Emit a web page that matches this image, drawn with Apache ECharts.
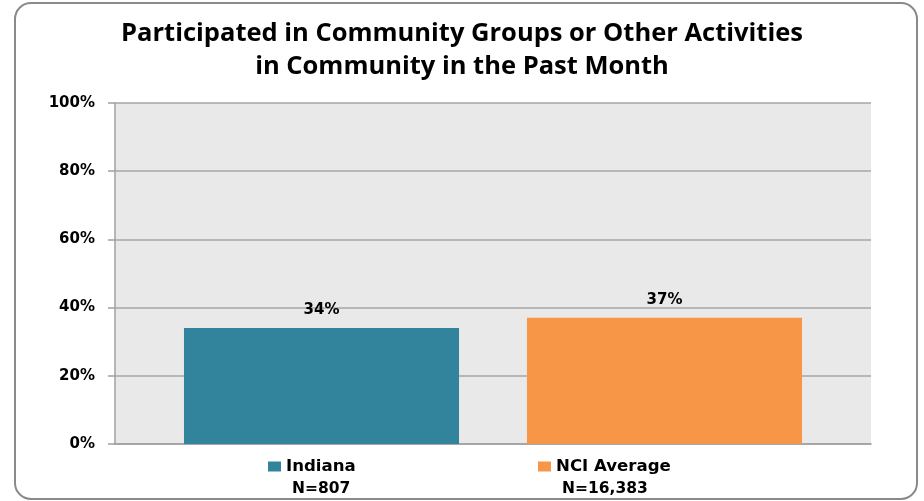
<!DOCTYPE html>
<html>
<head>
<meta charset="utf-8">
<script src="https://cdn.jsdelivr.net/npm/echarts@6/dist/echarts.min.js"></script>
<style>
  html, body { margin: 0; padding: 0; background: #ffffff; }
  #chart { width: 924px; height: 501px; }
</style>
</head>
<body>
<div id="chart"></div>
<script>
const titleText = 'Participated in Community Groups or Other Activities\nin Community in the Past Month';
const seriesNames = ['Indiana', 'NCI Average'];
const seriesValues = [34, 37];
const sampleSizes = ['807', '16,383'];
const seriesColors = ['#31849b', '#f79646'];
const yTicks = [0, 20, 40, 60, 80, 100];

const labelFont = 'DejaVu Sans';
const chart = echarts.init(document.getElementById('chart'), null, { renderer: 'canvas' });

const legendPositions = [268, 538];
const nLegendPositions = [287, 557];

const legends = [];
seriesNames.forEach((name, i) => {
  legends.push({
    data: [name],
    left: legendPositions[i],
    top: 458,
    padding: 0,
    itemWidth: 13,
    itemHeight: 10,
    icon: 'rect',
    textStyle: { fontFamily: labelFont, fontWeight: 'bold', fontSize: 16.6, color: '#000' }
  });
  legends.push({
    data: [{ name: name, icon: 'none' }],
    left: nLegendPositions[i],
    top: 481,
    padding: 0,
    itemWidth: 0,
    itemHeight: 10,
    selectedMode: false,
    formatter: () => 'N=' + sampleSizes[i],
    textStyle: { fontFamily: labelFont, fontWeight: 'bold', fontSize: 15.5, color: '#000' }
  });
});

const option = {
  backgroundColor: '#ffffff',
  animation: false,
  title: {
    text: titleText,
    left: 'center',
    top: 17,
    padding: 0,
    textStyle: {
      fontFamily: 'Open Sans',
      fontWeight: 'bold',
      fontSize: 25.5,
      lineHeight: 33,
      color: '#000'
    }
  },
  graphic: [{
    type: 'rect',
    shape: { x: 15, y: 3, width: 902, height: 496, r: 16 },
    style: { fill: 'none', stroke: '#8a8a8a', lineWidth: 2 },
    silent: true,
    z: 100
  }],
  legend: legends,
  grid: {
    left: 115,
    right: 53,
    top: 103,
    bottom: 57,
    show: true,
    backgroundColor: '#e9e9e9',
    borderWidth: 0
  },
  xAxis: {
    type: 'category',
    data: [''],
    axisLine: { show: true, lineStyle: { color: '#a0a0a0', width: 1.5 } },
    axisTick: { show: false },
    axisLabel: { show: false }
  },
  yAxis: {
    type: 'value',
    min: yTicks[0],
    max: yTicks[yTicks.length - 1],
    interval: 20,
    axisLine: { show: true, lineStyle: { color: '#a0a0a0', width: 1.5 } },
    axisTick: { show: true, length: 7, lineStyle: { color: '#a0a0a0', width: 1.5 } },
    splitLine: { show: true, lineStyle: { color: '#a6a6a6', width: 1.5 } },
    axisLabel: {
      margin: 20,
      formatter: '{value}%',
      fontFamily: labelFont,
      fontWeight: 'bold',
      fontSize: 15,
      color: '#000'
    }
  },
  series: seriesNames.map((name, i) => ({
    name: name,
    type: 'bar',
    data: [seriesValues[i]],
    barCategoryGap: '18.25%',
    barGap: '24.7%',
    itemStyle: { color: seriesColors[i] },
    label: {
      show: true,
      position: 'top',
      distance: 10,
      formatter: '{c}%',
      fontFamily: labelFont,
      fontWeight: 'bold',
      fontSize: 15,
      color: '#000'
    }
  }))
};

chart.setOption(option);
</script>
</body>
</html>
